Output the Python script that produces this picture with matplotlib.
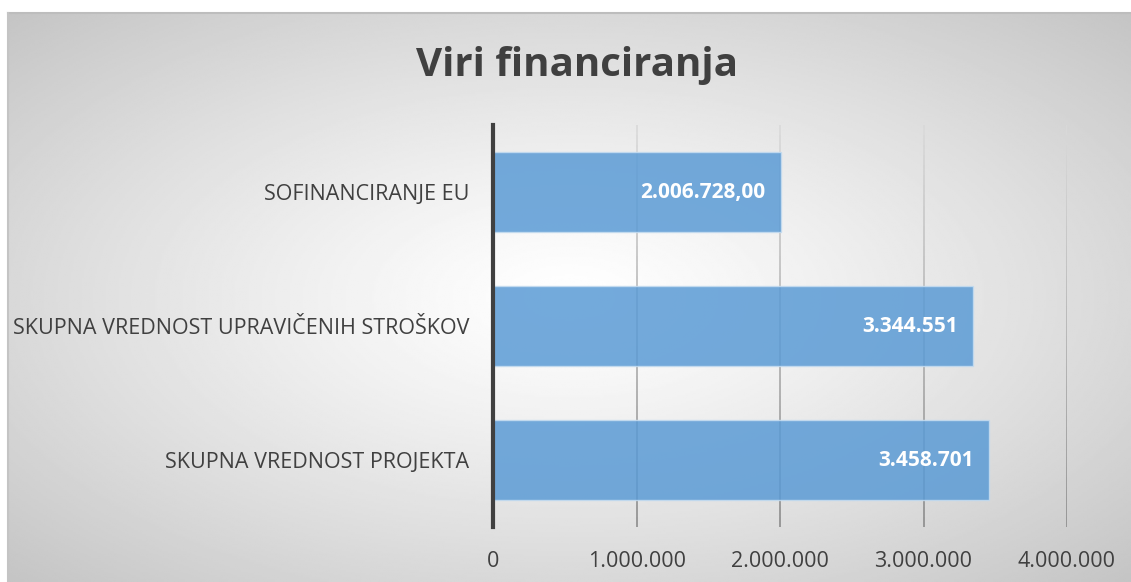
import numpy as np
import matplotlib.pyplot as plt
from matplotlib.collections import LineCollection

categories = ["SKUPNA VREDNOST PROJEKTA", "SKUPNA VREDNOST UPRAVIČENIH STROŠKOV", "SOFINANCIRANJE EU"]
values = [3458701, 3344551, 2006728.00]
value_labels = ["3.458.701", "3.344.551", "2.006.728,00"]
ticks = [0, 1000000, 2000000, 3000000, 4000000]
tick_labels = ["0", "1.000.000", "2.000.000", "3.000.000", "4.000.000"]

plt.rcParams['font.family'] = ['Open Sans', 'DejaVu Sans']

fig = plt.figure(figsize=(11.31, 5.82), dpi=100)

# radial gradient background (chart area is cropped at right and bottom)
bg = fig.add_axes([8 / 1131, 0, 1 - 8 / 1131, 1 - 13 / 582], zorder=0)
yy, xx = np.mgrid[-1:1:300j, -1:1:600j]
r = np.sqrt(xx ** 2 + yy ** 2) / np.sqrt(2)
shade = 1.0 - 0.23 * np.clip(r, 0, 1) ** 1.2
bg.imshow(shade, cmap='gray', vmin=0, vmax=1, aspect='auto', extent=[0, 1, 0, 1])
bg.set_xlim(0, 1)
bg.set_ylim(0, 1)
bg.axis('off')
bg.plot([0, 1], [1, 1], color='#bdbdbd', lw=1.5, transform=bg.transAxes, clip_on=False)
bg.plot([0, 0], [0, 1], color='#c4c4c4', lw=1.5, transform=bg.transAxes, clip_on=False)

ax = fig.add_axes([0.436, 0.0945, 0.5074, 0.6905], zorder=1)
ax.patch.set_alpha(0)

y = np.arange(len(categories))

# gridlines fading from light at top to darker at bottom
nseg = 40
ys = np.linspace(-0.5, 2.5, nseg + 1)
for t in ticks[1:]:
    segs = [[(t, ys[i]), (t, ys[i + 1])] for i in range(nseg)]
    shades = np.linspace(0.55, 0.85, nseg)
    lc = LineCollection(segs, colors=[(s, s, s) for s in shades], lw=1.2, zorder=1)
    ax.add_collection(lc)

ax.barh(y, values, height=0.6, color='#5b9bd5', alpha=0.85, edgecolor='#c5dcf0', lw=1, zorder=2)

for yi, v, lab in zip(y, values, value_labels):
    ax.annotate(lab, (v, yi), xytext=(-11, 0), textcoords='offset points', ha='right',
                va='center', color='white', fontsize=15, fontweight='bold', zorder=3)

ax.set_xlim(0, 4000000)
ax.set_ylim(-0.5, 2.5)
ax.set_xticks(ticks)
ax.set_xticklabels(tick_labels, fontsize=15.5, color='#404040')
ax.set_yticks(y)
ax.set_yticklabels(categories, fontsize=15.5, color='#404040')
ax.tick_params(axis='both', length=0)
ax.tick_params(axis='y', pad=17)
ax.tick_params(axis='x', pad=17)
for s in ['top', 'right', 'bottom']:
    ax.spines[s].set_visible(False)
ax.spines['left'].set_color('#404040')
ax.spines['left'].set_linewidth(3)
ax.spines['left'].set_zorder(4)

fig.text(0.51, 0.888, "Viri financiranja", ha='center', va='center', fontsize=29,
         fontweight='bold', color='#404040')

fig.savefig('out.png', dpi=100)
